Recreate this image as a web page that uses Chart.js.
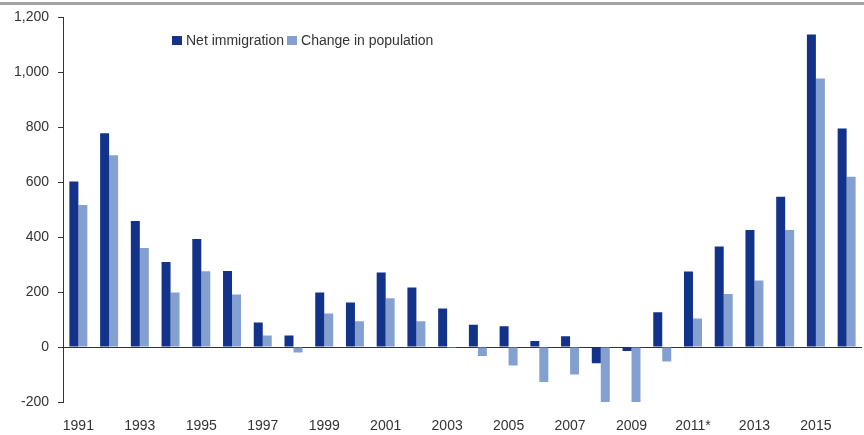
<!DOCTYPE html>
<html>
<head>
<meta charset="utf-8">
<script src="https://cdn.jsdelivr.net/npm/chart.js@4"></script>
<style>
  html, body { margin: 0; padding: 0; background: #fff; }
  #wrap { position: relative; width: 864px; height: 435px; }
  #topline { position: absolute; left: 0; top: 2px; width: 864px; height: 3px; background: #a3a3a3; }
  #legend { position: absolute; left: 172px; top: 32px; font-family: "Liberation Sans", Arial, sans-serif; font-size: 14px; color: #333; white-space: nowrap; }
  #legend span.sw { display: inline-block; width: 10px; height: 9px; vertical-align: middle; margin-right: 4px; position: relative; top: -1px; }
  #legend span.item { margin-right: 3px; }
</style>
</head>
<body>
<div id="wrap">
  <canvas id="c" width="864" height="435"></canvas>
  <div id="topline"></div>
  <div id="legend"></div>
</div>
<script>
const categories = ['1991','1992','1993','1994','1995','1996','1997','1998','1999','2000','2001','2002','2003','2004','2005','2006','2007','2008','2009','2010','2011*','2012','2013','2014','2015','2016'];
const netImmigration = [603, 778, 459, 310, 393, 277, 89, 42, 199, 162, 271, 217, 140, 81, 76, 22, 39, -59, -14, 127, 275, 366, 426, 547, 1138, 796];
const changeInPopulation = [517, 698, 361, 199, 276, 191, 42, -20, 122, 94, 178, 94, -3, -33, -67, -127, -100, -212, -204, -53, 104, 193, 242, 426, 978, 620];
const seriesNames = ['Net immigration', 'Change in population'];
const yTicks = { min: -200, max: 1200, step: 200 };

const darkBlue = '#13338a';
const lightBlue = '#83a0d0';
const font = "'Liberation Sans', Arial, sans-serif";

const legend = document.getElementById('legend');
[[seriesNames[0], darkBlue], [seriesNames[1], lightBlue]].forEach(([n, c]) => {
  const it = document.createElement('span');
  it.className = 'item';
  it.innerHTML = '<span class="sw" style="background:' + c + '"></span>' + n;
  legend.appendChild(it);
});

new Chart(document.getElementById('c'), {
  type: 'bar',
  data: {
    labels: categories,
    datasets: [
      { label: seriesNames[0], data: netImmigration, backgroundColor: darkBlue, borderWidth: 0 },
      { label: seriesNames[1], data: changeInPopulation, backgroundColor: lightBlue, borderWidth: 0 }
    ]
  },
  options: {
    responsive: false,
    animation: false,
    devicePixelRatio: 1,
    layout: { padding: { left: 13, right: 2, top: 13, bottom: 0 } },
    datasets: { bar: { categoryPercentage: 0.585, barPercentage: 1.0 } },
    plugins: { legend: { display: false }, tooltip: { enabled: false } },
    scales: {
      x: {
        grid: { display: false, drawTicks: false },
        border: { display: false },
        afterFit: s => { s.height = 33; },
        ticks: {
          autoSkip: false, maxRotation: 0, padding: 16,
          color: '#333', font: { family: font, size: 14 },
          callback: function (v, i) { return i % 2 === 0 ? categories[i] : ''; }
        }
      },
      y: {
        min: yTicks.min, max: yTicks.max,
        afterFit: s => { s.width = 50; },
        border: { display: true, color: '#333', width: 1 },
        grid: {
          color: ctx => (ctx.tick && ctx.tick.value === 0) ? '#333' : 'rgba(0,0,0,0)',
          tickColor: '#333', tickLength: 5, lineWidth: 1
        },
        ticks: {
          stepSize: yTicks.step, padding: 9, color: '#333',
          font: { family: font, size: 14 },
          callback: v => v.toLocaleString('en-US')
        }
      }
    }
  }
});
</script>
</body>
</html>
